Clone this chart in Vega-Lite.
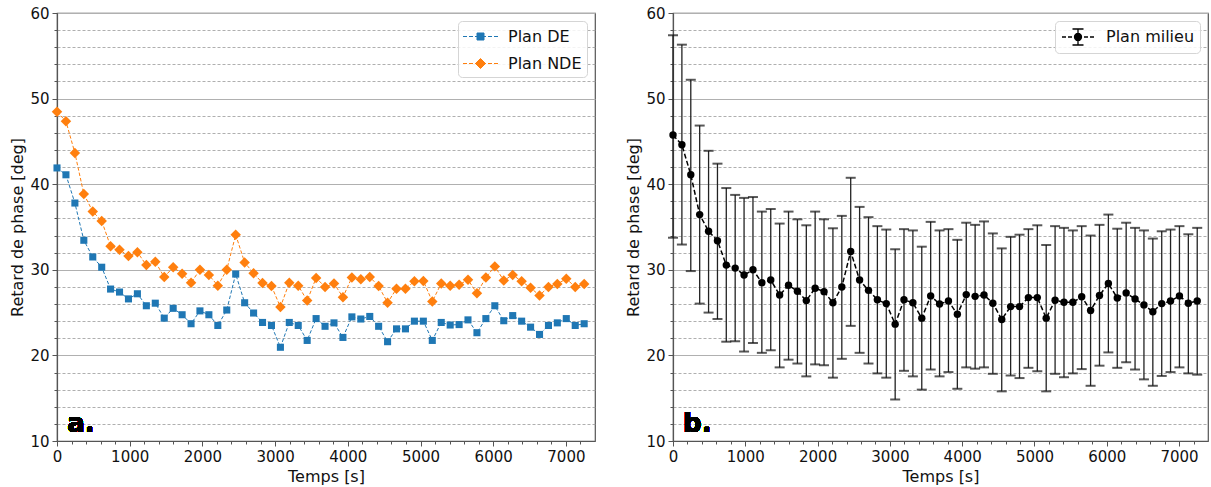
{
  "$schema": "https://vega.github.io/schema/vega-lite/v6.json",
  "background": "white",
  "padding": {"left": 9, "top": 5, "right": 2, "bottom": 5},
  "spacing": 29,
  "datasets": {
    "phase": [
      {"t":0,"s":"Plan DE","v":41.9},{"t":123,"s":"Plan DE","v":41.1},{"t":246,"s":"Plan DE","v":37.8},{"t":369,"s":"Plan DE","v":33.45},{"t":492,"s":"Plan DE","v":31.5},{"t":615,"s":"Plan DE","v":30.3},{"t":737,"s":"Plan DE","v":27.75},{"t":860,"s":"Plan DE","v":27.4},{"t":983,"s":"Plan DE","v":26.6},{"t":1106,"s":"Plan DE","v":27.2},
      {"t":1229,"s":"Plan DE","v":25.8},{"t":1352,"s":"Plan DE","v":26.1},{"t":1475,"s":"Plan DE","v":24.35},{"t":1598,"s":"Plan DE","v":25.5},{"t":1721,"s":"Plan DE","v":24.75},{"t":1844,"s":"Plan DE","v":23.7},{"t":1966,"s":"Plan DE","v":25.2},{"t":2089,"s":"Plan DE","v":24.75},{"t":2212,"s":"Plan DE","v":23.5},{"t":2335,"s":"Plan DE","v":25.3},
      {"t":2458,"s":"Plan DE","v":29.5},{"t":2581,"s":"Plan DE","v":26.15},{"t":2704,"s":"Plan DE","v":24.95},{"t":2827,"s":"Plan DE","v":23.85},{"t":2950,"s":"Plan DE","v":23.5},{"t":3073,"s":"Plan DE","v":20.95},{"t":3195,"s":"Plan DE","v":23.85},{"t":3318,"s":"Plan DE","v":23.5},{"t":3441,"s":"Plan DE","v":21.75},{"t":3564,"s":"Plan DE","v":24.3},
      {"t":3687,"s":"Plan DE","v":23.4},{"t":3810,"s":"Plan DE","v":23.8},{"t":3933,"s":"Plan DE","v":22.1},{"t":4056,"s":"Plan DE","v":24.5},{"t":4179,"s":"Plan DE","v":24.25},{"t":4302,"s":"Plan DE","v":24.55},{"t":4424,"s":"Plan DE","v":23.4},{"t":4547,"s":"Plan DE","v":21.6},{"t":4670,"s":"Plan DE","v":23.1},{"t":4793,"s":"Plan DE","v":23.1},
      {"t":4916,"s":"Plan DE","v":24.0},{"t":5039,"s":"Plan DE","v":24.0},{"t":5162,"s":"Plan DE","v":21.75},{"t":5285,"s":"Plan DE","v":23.85},{"t":5408,"s":"Plan DE","v":23.55},{"t":5531,"s":"Plan DE","v":23.6},{"t":5653,"s":"Plan DE","v":24.15},{"t":5776,"s":"Plan DE","v":22.65},{"t":5899,"s":"Plan DE","v":24.3},{"t":6022,"s":"Plan DE","v":25.8},
      {"t":6145,"s":"Plan DE","v":24.05},{"t":6268,"s":"Plan DE","v":24.65},{"t":6391,"s":"Plan DE","v":24.0},{"t":6514,"s":"Plan DE","v":23.3},{"t":6637,"s":"Plan DE","v":22.45},{"t":6760,"s":"Plan DE","v":23.5},{"t":6882,"s":"Plan DE","v":23.8},{"t":7005,"s":"Plan DE","v":24.3},{"t":7128,"s":"Plan DE","v":23.5},{"t":7251,"s":"Plan DE","v":23.7},
      {"t":0,"s":"Plan NDE","v":48.45},{"t":123,"s":"Plan NDE","v":47.35},{"t":246,"s":"Plan NDE","v":43.65},{"t":369,"s":"Plan NDE","v":38.85},{"t":492,"s":"Plan NDE","v":36.8},{"t":615,"s":"Plan NDE","v":35.7},{"t":737,"s":"Plan NDE","v":32.75},{"t":860,"s":"Plan NDE","v":32.35},{"t":983,"s":"Plan NDE","v":31.6},{"t":1106,"s":"Plan NDE","v":32.05},
      {"t":1229,"s":"Plan NDE","v":30.55},{"t":1352,"s":"Plan NDE","v":30.95},{"t":1475,"s":"Plan NDE","v":29.15},{"t":1598,"s":"Plan NDE","v":30.3},{"t":1721,"s":"Plan NDE","v":29.55},{"t":1844,"s":"Plan NDE","v":28.5},{"t":1966,"s":"Plan NDE","v":30.0},{"t":2089,"s":"Plan NDE","v":29.4},{"t":2212,"s":"Plan NDE","v":28.15},{"t":2335,"s":"Plan NDE","v":30.0},
      {"t":2458,"s":"Plan NDE","v":34.1},{"t":2581,"s":"Plan NDE","v":30.85},{"t":2704,"s":"Plan NDE","v":29.6},{"t":2827,"s":"Plan NDE","v":28.45},{"t":2950,"s":"Plan NDE","v":28.1},{"t":3073,"s":"Plan NDE","v":25.65},{"t":3195,"s":"Plan NDE","v":28.5},{"t":3318,"s":"Plan NDE","v":28.15},{"t":3441,"s":"Plan NDE","v":26.4},{"t":3564,"s":"Plan NDE","v":29.05},
      {"t":3687,"s":"Plan NDE","v":28.0},{"t":3810,"s":"Plan NDE","v":28.4},{"t":3933,"s":"Plan NDE","v":26.8},{"t":4056,"s":"Plan NDE","v":29.1},{"t":4179,"s":"Plan NDE","v":28.9},{"t":4302,"s":"Plan NDE","v":29.15},{"t":4424,"s":"Plan NDE","v":28.1},{"t":4547,"s":"Plan NDE","v":26.15},{"t":4670,"s":"Plan NDE","v":27.8},{"t":4793,"s":"Plan NDE","v":27.8},
      {"t":4916,"s":"Plan NDE","v":28.65},{"t":5039,"s":"Plan NDE","v":28.7},{"t":5162,"s":"Plan NDE","v":26.3},{"t":5285,"s":"Plan NDE","v":28.4},{"t":5408,"s":"Plan NDE","v":28.15},{"t":5531,"s":"Plan NDE","v":28.25},{"t":5653,"s":"Plan NDE","v":28.85},{"t":5776,"s":"Plan NDE","v":27.25},{"t":5899,"s":"Plan NDE","v":29.1},{"t":6022,"s":"Plan NDE","v":30.4},
      {"t":6145,"s":"Plan NDE","v":28.75},{"t":6268,"s":"Plan NDE","v":29.4},{"t":6391,"s":"Plan NDE","v":28.65},{"t":6514,"s":"Plan NDE","v":27.9},{"t":6637,"s":"Plan NDE","v":27.0},{"t":6760,"s":"Plan NDE","v":28.0},{"t":6882,"s":"Plan NDE","v":28.35},{"t":7005,"s":"Plan NDE","v":28.95},{"t":7128,"s":"Plan NDE","v":28.0},{"t":7251,"s":"Plan NDE","v":28.35}
    ],
    "milieu": [
      {"t":0,"m":45.75,"lo":33.75,"hi":57.4},{"t":123,"m":44.6,"lo":32.95,"hi":56.3},{"t":246,"m":41.1,"lo":29.85,"hi":52.2},{"t":369,"m":36.45,"lo":26.05,"hi":46.85},{"t":492,"m":34.5,"lo":25.0,"hi":43.9},{"t":615,"m":33.4,"lo":24.25,"hi":42.4},{"t":737,"m":30.55,"lo":21.6,"hi":39.55},{"t":860,"m":30.2,"lo":21.65,"hi":38.75},{"t":983,"m":29.4,"lo":20.45,"hi":38.4},{"t":1106,"m":30.0,"lo":21.45,"hi":38.5},
      {"t":1229,"m":28.5,"lo":20.3,"hi":36.8},{"t":1352,"m":28.8,"lo":20.6,"hi":37.1},{"t":1475,"m":27.05,"lo":18.6,"hi":35.4},{"t":1598,"m":28.2,"lo":19.5,"hi":36.8},{"t":1721,"m":27.5,"lo":19.05,"hi":35.9},{"t":1844,"m":26.4,"lo":17.55,"hi":35.2},{"t":1966,"m":27.85,"lo":18.95,"hi":36.8},{"t":2089,"m":27.45,"lo":18.85,"hi":35.9},{"t":2212,"m":26.15,"lo":17.4,"hi":34.85},{"t":2335,"m":28.0,"lo":19.6,"hi":36.3},
      {"t":2458,"m":32.15,"lo":23.45,"hi":40.75},{"t":2581,"m":28.8,"lo":20.3,"hi":37.35},{"t":2704,"m":27.6,"lo":19.05,"hi":36.15},{"t":2827,"m":26.5,"lo":17.9,"hi":35.1},{"t":2950,"m":26.05,"lo":17.4,"hi":34.7},{"t":3073,"m":23.65,"lo":14.85,"hi":32.4},{"t":3195,"m":26.5,"lo":18.2,"hi":34.75},{"t":3318,"m":26.15,"lo":17.55,"hi":34.6},{"t":3441,"m":24.35,"lo":16.0,"hi":32.7},{"t":3564,"m":26.95,"lo":18.35,"hi":35.6},
      {"t":3687,"m":26.0,"lo":17.55,"hi":34.6},{"t":3810,"m":26.35,"lo":18.05,"hi":34.75},{"t":3933,"m":24.8,"lo":16.1,"hi":33.5},{"t":4056,"m":27.1,"lo":18.6,"hi":35.5},{"t":4179,"m":26.9,"lo":18.45,"hi":35.25},{"t":4302,"m":27.05,"lo":18.6,"hi":35.65},{"t":4424,"m":26.1,"lo":17.85,"hi":34.25},{"t":4547,"m":24.2,"lo":15.8,"hi":32.5},{"t":4670,"m":25.7,"lo":17.65,"hi":33.85},{"t":4793,"m":25.7,"lo":17.35,"hi":34.1},
      {"t":4916,"m":26.75,"lo":18.55,"hi":34.75},{"t":5039,"m":26.75,"lo":18.15,"hi":35.2},{"t":5162,"m":24.35,"lo":15.8,"hi":32.9},{"t":5285,"m":26.45,"lo":17.85,"hi":35.1},{"t":5408,"m":26.2,"lo":17.45,"hi":34.9},{"t":5531,"m":26.2,"lo":17.9,"hi":34.6},{"t":5653,"m":26.85,"lo":18.4,"hi":35.1},{"t":5776,"m":25.25,"lo":16.45,"hi":34.0},{"t":5899,"m":27.0,"lo":18.8,"hi":35.25},{"t":6022,"m":28.4,"lo":20.35,"hi":36.45},
      {"t":6145,"m":26.7,"lo":18.55,"hi":34.8},{"t":6268,"m":27.3,"lo":19.2,"hi":35.5},{"t":6391,"m":26.6,"lo":18.35,"hi":34.9},{"t":6514,"m":25.9,"lo":17.2,"hi":34.6},{"t":6637,"m":25.1,"lo":16.45,"hi":33.65},{"t":6760,"m":26.05,"lo":17.6,"hi":34.5},{"t":6882,"m":26.35,"lo":18.05,"hi":34.7},{"t":7005,"m":26.95,"lo":18.6,"hi":35.1},{"t":7128,"m":26.1,"lo":17.9,"hi":34.15},{"t":7251,"m":26.35,"lo":17.75,"hi":34.9}
    ]
  },
  "config": {
    "font": "DejaVu Sans",
    "view": {"stroke": "#555555", "strokeWidth": 1.2},
    "axis": {
      "domainColor": "#555555", "domainWidth": 1.2,
      "tickColor": "#555555", "tickWidth": 1,
      "labelFont": "DejaVu Sans", "labelFontSize": 15, "labelColor": "#111111", "labelPadding": 3,
      "titleFont": "DejaVu Sans", "titleFontSize": 16, "titleFontWeight": "normal", "titleColor": "#111111",
      "labelOverlap": false, "labelFlush": false
    },
    "axisX": {
      "grid": true, "gridColor": "#b0b0b0", "gridWidth": 1.1,
      "gridOpacity": {"condition": {"test": "datum.value % 1000 === 0", "value": 1}, "value": 0},
      "tickSize": {"condition": {"test": "datum.value % 1000 === 0", "value": 5}, "value": 3}
    },
    "axisY": {
      "grid": true,
      "gridColor": {"condition": {"test": "datum.value % 10 === 0", "value": "#b0b0b0"}, "value": "#9a9a9a"},
      "gridDash": {"condition": {"test": "datum.value % 10 === 0", "value": []}, "value": [3, 2]},
      "gridWidth": {"condition": {"test": "datum.value % 10 === 0", "value": 1.1}, "value": 0.8},
      "tickSize": {"condition": {"test": "datum.value % 10 === 0", "value": 5}, "value": 3}
    },
    "legend": {
      "labelFont": "DejaVu Sans", "labelFontSize": 16, "labelColor": "#111111",
      "fillColor": "rgba(255,255,255,0.85)", "strokeColor": "#d5d5d5", "cornerRadius": 4,
      "padding": 5, "offset": 8, "orient": "top-right", "title": null,
      "symbolSize": 400, "symbolOffset": 7, "labelOffset": 17, "rowPadding": 8, "symbolStrokeWidth": 1
    }
  },
  "resolve": {"scale": {"color": "independent"}, "legend": {"color": "independent"}},
  "hconcat": [
    {
      "width": 538, "height": 428,
      "data": {"name": "phase"},
      "encoding": {
        "x": {"field": "t", "type": "quantitative", "title": "Temps [s]",
          "scale": {"domain": [0, 7400], "nice": false, "zero": false},
          "axis": {"values": [0,200,400,600,800,1000,1200,1400,1600,1800,2000,2200,2400,2600,2800,3000,3200,3400,3600,3800,4000,4200,4400,4600,4800,5000,5200,5400,5600,5800,6000,6200,6400,6600,6800,7000,7200],
            "format": "d", "labelExpr": "datum.value % 1000 === 0 ? datum.label : ''"}},
        "y": {"field": "v", "type": "quantitative", "title": "Retard de phase [deg]",
          "scale": {"domain": [10, 60], "nice": false, "zero": false},
          "axis": {"values": [10,12,14,16,18,20,22,24,26,28,30,32,34,36,38,40,42,44,46,48,50,52,54,56,58,60],
            "format": "d", "labelExpr": "datum.value % 10 === 0 ? datum.label : ''"}}
      },
      "layer": [
        {
          "mark": {"type": "line", "strokeWidth": 1, "strokeDash": [3.5, 2]},
          "encoding": {
            "color": {"field": "s", "type": "nominal",
              "scale": {"domain": ["Plan DE", "Plan NDE"], "range": ["#1f77b4", "#ff7f0e"]},
              "legend": {
                "encoding": {"symbols": {
                  "shape": {"value": {"expr": "datum.value === 'Plan DE' ? 'M-1.75,0H-1.35M-1.15,0H-0.75M-0.55,0H-0.35M0.35,0H0.55M0.75,0H1.15M1.35,0H1.75M-0.35,-0.35H0.35V0.35H-0.35Z' : 'M-1.75,0H-1.35M-1.15,0H-0.75M-0.55,0H-0.45M0.45,0H0.55M0.75,0H1.15M1.35,0H1.75M0,-0.5L0.5,0L0,0.5L-0.5,0Z'"}},
                  "fill": {"value": {"expr": "datum.value === 'Plan DE' ? '#1f77b4' : '#ff7f0e'"}},
                  "stroke": {"value": {"expr": "datum.value === 'Plan DE' ? '#1f77b4' : '#ff7f0e'"}},
                  "strokeWidth": {"value": 1},
                  "opacity": {"value": 1}
                }}
              }}
          }
        },
        {
          "mark": {"type": "point", "filled": true, "opacity": 1},
          "encoding": {
            "color": {"field": "s", "type": "nominal", "legend": null},
            "shape": {"field": "s", "type": "nominal", "scale": {"domain": ["Plan DE", "Plan NDE"], "range": ["square", "diamond"]}, "legend": null},
            "size": {"field": "s", "type": "nominal", "scale": {"domain": ["Plan DE", "Plan NDE"], "range": [50, 110]}, "legend": null}
          }
        },
        {
          "mark": {"type": "text", "text": "a.", "align": "left", "baseline": "alphabetic", "fontSize": 26, "fontWeight": "bold", "font": "DejaVu Sans", "color": "#000000"},
          "encoding": {
            "x": {"datum": 140, "type": "quantitative"},
            "y": {"datum": 11.1, "type": "quantitative"}
          }
        }
      ]
    },
    {
      "width": 535, "height": 428,
      "data": {"name": "milieu"},
      "encoding": {
        "x": {"field": "t", "type": "quantitative", "title": "Temps [s]",
          "scale": {"domain": [0, 7400], "nice": false, "zero": false},
          "axis": {"values": [0,200,400,600,800,1000,1200,1400,1600,1800,2000,2200,2400,2600,2800,3000,3200,3400,3600,3800,4000,4200,4400,4600,4800,5000,5200,5400,5600,5800,6000,6200,6400,6600,6800,7000,7200],
            "format": "d", "labelExpr": "datum.value % 1000 === 0 ? datum.label : ''"}},
        "y": {"field": "m", "type": "quantitative", "title": "Retard de phase [deg]",
          "scale": {"domain": [10, 60], "nice": false, "zero": false},
          "axis": {"values": [10,12,14,16,18,20,22,24,26,28,30,32,34,36,38,40,42,44,46,48,50,52,54,56,58,60],
            "format": "d", "labelExpr": "datum.value % 10 === 0 ? datum.label : ''"}}
      },
      "layer": [
        {
          "mark": {"type": "rule", "color": "#222222", "strokeWidth": 1.3},
          "encoding": {
            "y": {"field": "lo", "type": "quantitative", "title": "Retard de phase [deg]",
              "scale": {"domain": [10, 60], "nice": false, "zero": false},
              "axis": {"values": [10,12,14,16,18,20,22,24,26,28,30,32,34,36,38,40,42,44,46,48,50,52,54,56,58,60],
                "format": "d", "labelExpr": "datum.value % 10 === 0 ? datum.label : ''"}},
            "y2": {"field": "hi"}
          }
        },
        {
          "mark": {"type": "tick", "orient": "horizontal", "color": "#111111", "size": 10, "thickness": 2},
          "encoding": {"y": {"field": "lo", "type": "quantitative", "title": "Retard de phase [deg]",
              "scale": {"domain": [10, 60], "nice": false, "zero": false},
              "axis": {"values": [10,12,14,16,18,20,22,24,26,28,30,32,34,36,38,40,42,44,46,48,50,52,54,56,58,60],
                "format": "d", "labelExpr": "datum.value % 10 === 0 ? datum.label : ''"}}}
        },
        {
          "mark": {"type": "tick", "orient": "horizontal", "color": "#111111", "size": 10, "thickness": 2},
          "encoding": {"y": {"field": "hi", "type": "quantitative", "title": "Retard de phase [deg]",
              "scale": {"domain": [10, 60], "nice": false, "zero": false},
              "axis": {"values": [10,12,14,16,18,20,22,24,26,28,30,32,34,36,38,40,42,44,46,48,50,52,54,56,58,60],
                "format": "d", "labelExpr": "datum.value % 10 === 0 ? datum.label : ''"}}}
        },
        {
          "mark": {"type": "line", "color": "#000000", "strokeWidth": 1.5, "strokeDash": [5, 2.5]},
          "encoding": {}
        },
        {
          "mark": {"type": "point", "filled": true, "opacity": 1, "size": 55, "shape": "circle"},
          "encoding": {
            "color": {"datum": "Plan milieu", "type": "nominal", "scale": {"range": ["#000000"]},
              "legend": {
                "encoding": {"symbols": {
                  "shape": {"value": "M-1.6,0H-1.2M-1.0,0H-0.6M0.6,0H1.0M1.2,0H1.6M0,-0.8V0.8M-0.55,-0.8H0.55M-0.55,0.8H0.55M-0.35,0A0.35,0.35 0 1,0 0.35,0A0.35,0.35 0 1,0 -0.35,0Z"},
                  "fill": {"value": "#000000"},
                  "stroke": {"value": "#000000"},
                  "strokeWidth": {"value": 1.3},
                  "opacity": {"value": 1}
                }}
              }}
          }
        },
        {
          "mark": {"type": "text", "text": "b.", "align": "left", "baseline": "alphabetic", "fontSize": 26, "fontWeight": "bold", "font": "DejaVu Sans", "color": "#000000"},
          "encoding": {
            "x": {"datum": 140, "type": "quantitative"},
            "y": {"datum": 11.1, "type": "quantitative"}
          }
        }
      ]
    }
  ]
}
